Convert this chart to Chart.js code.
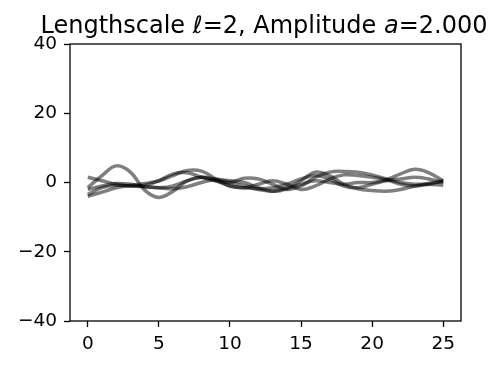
<!DOCTYPE html>
<html>
<head>
<meta charset="utf-8">
<script src="https://cdn.jsdelivr.net/npm/chart.js@4/dist/chart.umd.min.js"></script>
<style>
  html, body { margin: 0; padding: 0; background: #fff; }
  #wrap { position: relative; width: 504px; height: 369px; }
  #title {
    position: absolute; left: 264px; top: 13px; transform: translateX(-50%);
    font-family: "DejaVu Sans", sans-serif;
    font-size: 24px; line-height: 1; color: #000; white-space: nowrap;
  }
</style>
</head>
<body>
<div id="wrap">
  <div id="title">Lengthscale <i>ℓ</i>=2, Amplitude <i>a</i>=2.000</div>
  <canvas id="myChart" width="504" height="369"></canvas>
</div>
<script>
// sample positions and the five drawn curves
const xs = [0,1,2,3,4,5,6,7,8,9,10,11,12,13,14,15,16,17,18,19,20,21,22,23,24,25];
const curveA = [-1.5,2.0,4.8,3.0,-2.2,-4.3,-2.5,0.5,1.5,0.5,-1.0,-1.5,-0.5,0.5,-0.5,-2.0,-1.0,1.0,2.2,2.0,1.5,0.8,-0.5,-1.0,-0.5,0.5];
const curveB = [-4.0,-2.8,-1.5,-0.8,-0.3,0.5,2.0,3.5,3.3,1.0,-1.0,-1.5,-1.8,-1.5,-0.5,1.0,2.0,1.0,-1.0,-1.5,-0.5,0.5,1.0,1.5,1.0,0.0];
const curveC = [1.5,0.5,-0.5,-1.0,-0.8,0.5,2.5,2.8,1.5,0.5,0.0,1.2,1.0,-0.5,-2.0,-1.0,1.5,3.0,3.2,3.0,2.2,1.0,0.0,-0.5,-0.5,-0.8];
const curveD = [-2.0,-1.0,-0.3,-0.5,-1.2,-1.5,-1.0,0.5,1.5,1.0,0.5,0.0,-1.5,-2.5,-1.8,0.5,3.0,2.0,-0.5,-1.8,-2.3,-2.5,-2.0,-1.0,-0.2,0.3];
const curveE = [-3.5,-1.5,-0.8,-1.0,-1.2,-1.5,-1.8,-1.2,0.0,0.8,0.0,-1.0,-2.0,-2.5,-1.5,-0.5,0.5,0.0,-0.5,0.0,0.0,0.8,2.5,3.8,2.8,0.5];
const xTicks = [0,5,10,15,20,25];
const yTicks = [-40,-20,0,20,40];

const curves = [curveA, curveB, curveC, curveD, curveE];

// matplotlib style box around the plot area
const frame = {
    id: 'frame',
    afterDraw(chart) {
        const a = chart.chartArea, c = chart.ctx;
        c.save();
        c.strokeStyle = '#000';
        c.lineWidth = 1.3;
        c.strokeRect(a.left, a.top, a.right - a.left, a.bottom - a.top);
        c.restore();
    }
};

const tickFont = { family: 'DejaVu Sans', size: 18.5 };

new Chart(document.getElementById('myChart'), {
    type: 'line',
    data: {
        datasets: curves.map(ys => ({
            data: xs.map((x, i) => ({ x: x, y: ys[i] })),
            borderColor: 'rgba(0,0,0,0.5)',
            borderWidth: 3.5,
            pointRadius: 0,
            tension: 0.4,
            fill: false
        }))
    },
    options: {
        responsive: false,
        animation: false,
        layout: { padding: { top: 44, right: 43, left: 0, bottom: 0 } },
        plugins: { legend: { display: false }, tooltip: { enabled: false } },
        scales: {
            x: {
                type: 'linear',
                min: -1.25,
                max: 26.25,
                afterBuildTicks: axis => { axis.ticks = xTicks.map(v => ({ value: v })); },
                afterFit: scale => { scale.height = 48; },
                grid: { drawOnChartArea: false, drawTicks: true, tickLength: 6, color: '#000', tickWidth: 1.3 },
                border: { display: false },
                ticks: { color: '#000', font: tickFont, padding: 6, maxRotation: 0 }
            },
            y: {
                min: -40,
                max: 40,
                afterBuildTicks: axis => { axis.ticks = yTicks.map(v => ({ value: v })); },
                afterFit: scale => { scale.width = 70; },
                grid: { drawOnChartArea: false, drawTicks: true, tickLength: 6, color: '#000', tickWidth: 1.3 },
                border: { display: false },
                ticks: {
                    color: '#000', font: tickFont, padding: 7,
                    callback: v => String(v).replace('-', '\u2212')
                }
            }
        }
    },
    plugins: [frame]
});
</script>
</body>
</html>
